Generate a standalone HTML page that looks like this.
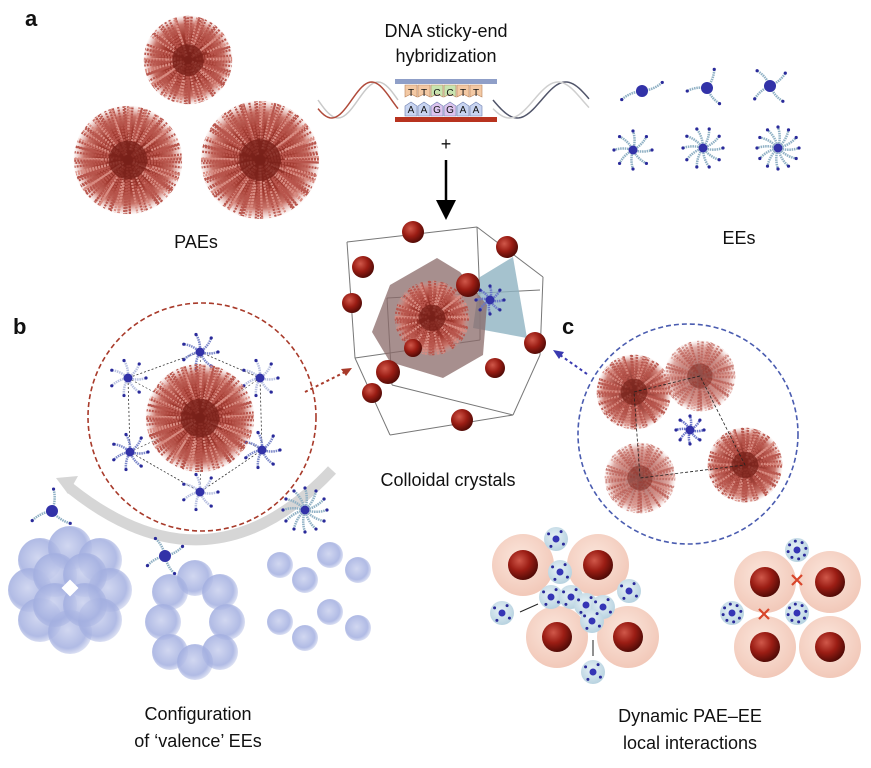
<!DOCTYPE html>
<html><head><meta charset="utf-8">
<style>
html,body{margin:0;padding:0;background:#fff;}
svg{display:block;}
text{font-family:"Liberation Sans",Arial,sans-serif;fill:#111;}
</style></head>
<body>
<svg id="s" width="871" height="768" viewBox="0 0 871 768" xmlns="http://www.w3.org/2000/svg">
<defs>
<radialGradient id="rb" cx="0.38" cy="0.35" r="0.7"><stop offset="0" stop-color="#d0584a"/><stop offset="0.5" stop-color="#9b1d14"/><stop offset="1" stop-color="#4a0905"/></radialGradient>
<radialGradient id="pk" cx="0.45" cy="0.4" r="0.65"><stop offset="0" stop-color="#fbe6dc"/><stop offset="1" stop-color="#f1c6b6"/></radialGradient>
<radialGradient id="lb" cx="0.45" cy="0.4" r="0.65"><stop offset="0" stop-color="#e6f1f6"/><stop offset="1" stop-color="#b4d0de"/></radialGradient>
<radialGradient id="bb" cx="0.45" cy="0.45" r="0.6"><stop offset="0" stop-color="#c9d0ee"/><stop offset="0.7" stop-color="#a3afe0"/><stop offset="1" stop-color="#a3afe0" stop-opacity="0.3"/></radialGradient>
<radialGradient id="sp" cx="0.5" cy="0.5" r="0.5"><stop offset="0" stop-color="#6a1812"/><stop offset="0.55" stop-color="#a23a30"/><stop offset="0.8" stop-color="#c87268"/><stop offset="1" stop-color="#e0a098" stop-opacity="0"/></radialGradient>
<marker id="ah" markerWidth="8" markerHeight="8" refX="4" refY="4" orient="auto"><path d="M0,0 L8,4 L0,8 Z" fill="#000"/></marker>
</defs>

<g id="g"></g>

<text x="25" y="26" font-size="22" font-weight="bold">a</text>
<text x="13" y="334" font-size="22" font-weight="bold">b</text>
<text x="562" y="334" font-size="22" font-weight="bold">c</text>
<text x="446" y="37" font-size="18" text-anchor="middle">DNA sticky-end</text>
<text x="446" y="62" font-size="18" text-anchor="middle">hybridization</text>
<text x="446" y="150" font-size="18" text-anchor="middle">+</text>
<text x="196" y="248" font-size="18" text-anchor="middle">PAEs</text>
<text x="739" y="244" font-size="18" text-anchor="middle">EEs</text>
<text x="448" y="486" font-size="18" text-anchor="middle">Colloidal crystals</text>
<text x="198" y="720" font-size="18" text-anchor="middle">Configuration</text>
<text x="198" y="747" font-size="18" text-anchor="middle">of ‘valence’ EEs</text>
<text x="690" y="722" font-size="18" text-anchor="middle">Dynamic PAE–EE</text>
<text x="690" y="749" font-size="18" text-anchor="middle">local interactions</text>

<g font-size="10" text-anchor="middle">
<text x="411" y="96">T</text><text x="424" y="96">T</text><text x="437" y="96">C</text><text x="450" y="96">C</text><text x="463" y="96">T</text><text x="476" y="96">T</text>
<text x="411" y="113">A</text><text x="424" y="113">A</text><text x="437" y="113">G</text><text x="450" y="113">G</text><text x="463" y="113">A</text><text x="476" y="113">A</text>
</g>
</svg>
<script>
var g=document.getElementById('g');var NS='http://www.w3.org/2000/svg';
function el(t,a){var e=document.createElementNS(NS,t);for(var k in a)e.setAttribute(k,a[k]);g.appendChild(e);return e;}
function spiky(cx,cy,r,op){
 el('circle',{cx:cx,cy:cy,r:r,fill:'url(#sp)',opacity:op||1});
 for(var i=0;i<Math.round(r*2.2);i++){var a=i*2.399+Math.sin(i)*0.3;var l=r*(0.45+0.5*((i*37)%11)/11);
  var x2=cx+Math.cos(a)*r*0.98,y2=cy+Math.sin(a)*r*0.98;var x1=cx+Math.cos(a)*(r-l),y1=cy+Math.sin(a)*(r-l);
  el('line',{x1:x1,y1:y1,x2:x2,y2:y2,stroke:i%3?'#b8554c':'#d98c82','stroke-width':2.2,'stroke-dasharray':'2 1',opacity:op||1});}
 el('circle',{cx:cx,cy:cy,r:r*0.35,fill:'#7a221a',opacity:(op||1)*0.8});
}
function star(cx,cy,n,L,col,rot){
 for(var i=0;i<n;i++){var a=(rot||0)+i*2*Math.PI/n;var bx=cx+Math.cos(a+0.3)*L*0.55,by=cy+Math.sin(a+0.3)*L*0.55;var x=cx+Math.cos(a)*L,y=cy+Math.sin(a)*L;
  el('path',{d:'M'+cx+','+cy+' Q'+bx+','+by+' '+x+','+y,stroke:col||'#8fb0c4','stroke-width':2.5,fill:'none','stroke-dasharray':'1.5 0.8'});
  el('circle',{cx:x,cy:y,r:1.6,fill:'#2a2a9a'});}
 el('circle',{cx:cx,cy:cy,r:n<=4?6:4.5,fill:'#3232a8'});
}
function ball(cx,cy,r){el('circle',{cx:cx,cy:cy,r:r,fill:'url(#rb)'});}
spiky(188,60,45);spiky(128,160,55);spiky(260,160,60);
function helix(x0,x1,col1,col2){var d1='',d2='';for(var x=x0;x<=x1;x+=2){var t=(x-x0)/(x1-x0)*Math.PI*2;d1+=(x==x0?'M':'L')+x+','+(100+18*Math.sin(t));d2+=(x==x0?'M':'L')+x+','+(100+18*Math.sin(t+0.5));}
 el('path',{d:d1,stroke:col1,fill:'none','stroke-width':1.5});el('path',{d:d2,stroke:col2,fill:'none','stroke-width':1.5});}
helix(318,398,'#c9c9c9','#b04a3a');helix(493,590,'#51556a','#cfcfcf');
el('rect',{x:395,y:79,width:102,height:5,fill:'#8f9fc8'});
el('rect',{x:395,y:117,width:102,height:5,fill:'#b8331f'});
var tc=['#f3c9a4','#f3c9a4','#c8e4b0','#c8e4b0','#f3c9a4','#f3c9a4'],bc=['#c8d4f0','#c8d4f0','#dcc4ee','#dcc4ee','#c8d4f0','#c8d4f0'];
for(var i=0;i<6;i++){var x=405+i*13;el('path',{d:'M'+x+',85 h12 v12 l-6,-3 l-6,3Z',fill:tc[i],stroke:'#b9825a','stroke-width':0.6});
 el('path',{d:'M'+x+',116 h12 v-10 l-6,-4 l-6,4Z',fill:bc[i],stroke:'#6d7fb0','stroke-width':0.6});}
g.appendChild(document.querySelector('svg g[font-size="10"]'));
el('line',{x1:446,y1:160,x2:446,y2:210,stroke:'#000','stroke-width':2.5,'marker-end':'url(#ah)'});
star(642,91,2,22,null,-0.4);star(707,88,3,20,null,-1.2);star(770,86,4,20,null,-0.7);
star(633,150,8,19);star(703,148,10,20);star(778,148,12,21);
var cp='#777';
[[347,242,477,227],[477,227,543,277],[347,242,355,358],[355,358,390,435],[390,435,513,415],[513,415,540,355],[543,277,540,355],[387,298,540,290],[387,298,392,385],[392,385,513,415],[477,227,480,300],[355,358,480,340],[480,300,480,340]].forEach(function(l){el('line',{x1:l[0],y1:l[1],x2:l[2],y2:l[3],stroke:cp,'stroke-width':1});});
el('polygon',{points:'480,277 513,257 527,338 473,328',fill:'#8fb3c2',opacity:0.8});
el('polygon',{points:'372,332 390,285 437,258 460,272 487,305 483,355 443,378 390,362',fill:'#8a6a68',opacity:0.75});
spiky(432,318,38);star(490,300,8,14,'#6a76c8');
[[413,232,11],[507,247,11],[363,267,11],[468,285,12],[352,303,10],[535,343,11],[413,348,9],[388,372,12],[495,368,10],[372,393,10],[462,420,11]].forEach(function(b){ball(b[0],b[1],b[2]);});
el('circle',{cx:202,cy:417,r:114,fill:'none',stroke:'#a83a2a','stroke-width':1.6,'stroke-dasharray':'5 3'});
el('circle',{cx:688,cy:434,r:110,fill:'none',stroke:'#4a5cb0','stroke-width':1.6,'stroke-dasharray':'5 3'});
el('line',{x1:305,y1:392,x2:345,y2:372,stroke:'#a83a2a','stroke-width':2,'stroke-dasharray':'3 3'});
el('path',{d:'M352,368 l-11,1 l5,7Z',fill:'#a83a2a'});
el('line',{x1:587,y1:374,x2:560,y2:355,stroke:'#3a3ab0','stroke-width':2,'stroke-dasharray':'3 3'});
el('path',{d:'M553,350 l11,2 l-5,7Z',fill:'#3a3ab0'});
var hx=[[200,352],[260,378],[262,450],[200,492],[130,452],[128,378]];
el('polygon',{points:hx.map(function(p){return p.join(',')}).join(' '),fill:'none',stroke:'#333','stroke-width':0.8,'stroke-dasharray':'2 2'});
hx.forEach(function(p,i){el('line',{x1:p[0],y1:p[1],x2:202,y2:418,stroke:'#333','stroke-width':0.6,'stroke-dasharray':'2 2'});star(p[0],p[1],7,18,i%2?'#b8c0e0':'#7a86c8');});
spiky(200,418,55);
spiky(634,392,38,0.9);spiky(700,376,36,0.6);spiky(640,478,36,0.6);spiky(745,465,38,0.95);
el('polygon',{points:'634,392 700,376 745,465 640,478',fill:'none',stroke:'#222','stroke-width':0.8,'stroke-dasharray':'3 2'});
star(690,430,8,14,'#6a76c8');
el('path',{d:'M332,470 Q210,600 70,488',stroke:'#d6d6d6','stroke-width':11,fill:'none'});
el('path',{d:'M56,478 l22,-2 l-10,18Z',fill:'#d6d6d6'});
function blob(cx,cy,r){el('circle',{cx:cx,cy:cy,r:r,fill:'url(#bb)',opacity:0.85});}
[[40,560],[70,548],[100,560],[30,590],[110,590],[40,620],[70,632],[100,620],[55,575],[85,575],[55,605],[85,605]].forEach(function(p){blob(p[0],p[1],22);});
el('rect',{x:64,y:582,width:12,height:12,fill:'#fff',transform:'rotate(45 70 588)'});
[[195,578],[170,592],[220,592],[163,622],[227,622],[170,652],[220,652],[195,662]].forEach(function(p){blob(p[0],p[1],18);});
[[280,565],[305,580],[330,555],[358,570],[280,622],[305,638],[330,612],[358,628]].forEach(function(p){blob(p[0],p[1],13);});
star(52,511,3,22,null,-1.5);star(165,556,4,20,null,-0.5);star(305,510,12,22);
function pae(cx,cy){el('circle',{cx:cx,cy:cy,r:31,fill:'url(#pk)'});ball(cx,cy,15);}
function ee(cx,cy,n){el('circle',{cx:cx,cy:cy,r:12,fill:'url(#lb)'});el('circle',{cx:cx,cy:cy,r:3.5,fill:'#3535b5'});for(var i=0;i<n;i++){var a=i*2*Math.PI/n+0.6;el('circle',{cx:cx+Math.cos(a)*9,cy:cy+Math.sin(a)*9,r:1.5,fill:'#2a2a9a'});}}
pae(523,565);pae(598,565);ee(556,539,4);ee(560,572,4);
pae(557,637);pae(628,637);
[[551,597],[571,597],[586,605],[603,607],[592,621],[629,591],[502,613],[593,672]].forEach(function(p){ee(p[0],p[1],4);});
pae(765,582);pae(830,582);pae(765,647);pae(830,647);
ee(797,550,8);ee(732,613,8);ee(797,613,8);
el('line',{x1:520,y1:612,x2:538,y2:604,stroke:'#222','stroke-width':1});
el('line',{x1:593,y1:640,x2:593,y2:656,stroke:'#222','stroke-width':1});
[[797,580],[764,614]].forEach(function(p){el('path',{d:'M'+(p[0]-5)+','+(p[1]-5)+' l10,10 M'+(p[0]+5)+','+(p[1]-5)+' l-10,10',stroke:'#d8452a','stroke-width':2.2});});
</script>
</body></html>
